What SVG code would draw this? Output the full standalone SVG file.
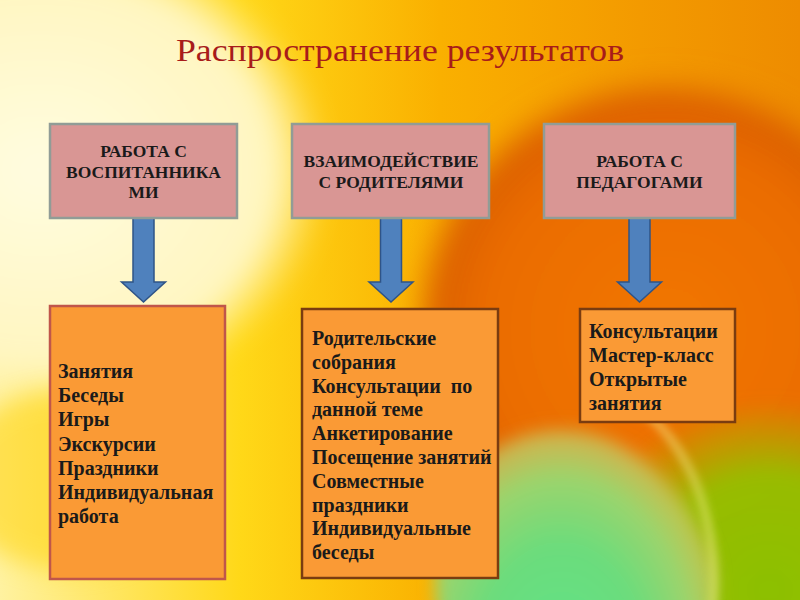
<svg xmlns="http://www.w3.org/2000/svg" width="800" height="600" viewBox="0 0 800 600">
  <defs>
    <linearGradient id="base" x1="0" y1="0" x2="1" y2="0">
      <stop offset="0" stop-color="#fff2a0"/>
      <stop offset="0.3" stop-color="#ffd818"/>
      <stop offset="0.55" stop-color="#fab000"/>
      <stop offset="0.8" stop-color="#f39a00"/>
      <stop offset="1" stop-color="#ee8c00"/>
    </linearGradient>
    <radialGradient id="pale" cx="0.5" cy="0.5" r="0.5">
      <stop offset="0" stop-color="#fffce0"/>
      <stop offset="0.8" stop-color="#fff6c0"/>
      <stop offset="1" stop-color="#fff0a0" stop-opacity="0"/>
    </radialGradient>
    <radialGradient id="orng" cx="0.5" cy="0.5" r="0.5">
      <stop offset="0" stop-color="#f27600"/>
      <stop offset="0.7" stop-color="#ea6c00"/>
      <stop offset="0.88" stop-color="#dc6000"/>
      <stop offset="1" stop-color="#e88000" stop-opacity="0"/>
    </radialGradient>
    <radialGradient id="yg" cx="0.5" cy="0.5" r="0.5">
      <stop offset="0" stop-color="#8cc000"/>
      <stop offset="0.6" stop-color="#94c000" stop-opacity="0.95"/>
      <stop offset="1" stop-color="#a0c000" stop-opacity="0"/>
    </radialGradient>
    <radialGradient id="grn" cx="0.45" cy="0.72" r="0.62">
      <stop offset="0" stop-color="#5ee488"/>
      <stop offset="0.5" stop-color="#6cdc7c"/>
      <stop offset="0.78" stop-color="#9cd46c"/>
      <stop offset="0.95" stop-color="#c8c660" stop-opacity="0.8"/>
      <stop offset="1" stop-color="#d8b848" stop-opacity="0"/>
    </radialGradient>
    <filter id="soft" x="-20%" y="-20%" width="140%" height="140%">
      <feGaussianBlur stdDeviation="12"/>
    </filter>
    <filter id="soft2" x="-20%" y="-20%" width="140%" height="140%">
      <feGaussianBlur stdDeviation="8"/>
    </filter>
    <filter id="soft3" x="-20%" y="-20%" width="140%" height="140%">
      <feGaussianBlur stdDeviation="4"/>
    </filter>
    <style>
      .hdr rect { fill: #d99694; stroke: #919c96; stroke-width: 2.5; }
      .hdr text { font-family: "Liberation Serif", "Times New Roman", serif; font-weight: bold; font-size: 17.5px; fill: #1a1a1a; text-anchor: middle; }
      .lst rect { fill: #fa9a35; stroke-width: 2.5; }
      .lst text { font-family: "Liberation Serif", "Times New Roman", serif; font-weight: bold; font-size: 20px; fill: #1a1a1a; }
      .arrow { fill: #4f81bd; stroke: #2f5487; stroke-width: 1.5; }
    </style>
  </defs>

  <!-- background -->
  <rect width="800" height="600" fill="url(#base)"/>
  <circle cx="665" cy="330" r="260" fill="url(#orng)" filter="url(#soft)"/>
  <ellipse cx="770" cy="590" rx="200" ry="190" fill="url(#yg)" filter="url(#soft2)"/>
  <ellipse cx="575" cy="580" rx="140" ry="195" fill="url(#grn)" filter="url(#soft2)"/>
  <path d="M600,388 A140,195 0 0,1 712,610" fill="none" stroke="#f4f08c" stroke-width="8" opacity="0.5" filter="url(#soft3)"/>
  <ellipse cx="40" cy="170" rx="290" ry="240" fill="url(#pale)" filter="url(#soft)"/>
  <ellipse cx="70" cy="480" rx="120" ry="90" fill="#ffd000" opacity="0.5" filter="url(#soft)"/>

  <text x="400" y="61" font-family="'Liberation Serif', 'Times New Roman', serif" font-size="31" fill="#a81c1a" text-anchor="middle" textLength="448" lengthAdjust="spacingAndGlyphs">Распространение результатов</text>

  <g id="connectors">
    <path class="arrow" d="M133,218 H154 V282 H165.5 L143.5,302 L121.5,282 H133 Z"/>
    <path class="arrow" d="M380.5,218 H401.5 V282 H413 L391,302 L369,282 H380.5 Z"/>
    <path class="arrow" d="M629,218 H650 V282 H661.5 L639.5,302 L617.5,282 H629 Z"/>
  </g>

  <g id="node-pupils" class="hdr">
    <rect x="50" y="124" width="187" height="94"/>
    <text x="143.5" y="157">РАБОТА С</text>
    <text x="143.5" y="177.5">ВОСПИТАННИКА</text>
    <text x="143.5" y="198">МИ</text>
  </g>
  <g id="node-parents" class="hdr">
    <rect x="292" y="124" width="197" height="94"/>
    <text x="391" y="167">ВЗАИМОДЕЙСТВИЕ</text>
    <text x="391" y="187.5">С РОДИТЕЛЯМИ</text>
  </g>
  <g id="node-teachers" class="hdr">
    <rect x="544" y="124" width="191" height="94"/>
    <text x="639.5" y="167">РАБОТА С</text>
    <text x="639.5" y="187.5">ПЕДАГОГАМИ</text>
  </g>

  <g id="node-list-pupils" class="lst">
    <rect x="50" y="306" width="175" height="273" stroke="#c0564a"/>
    <text x="58" y="378">Занятия</text>
    <text x="58" y="402.2">Беседы</text>
    <text x="58" y="426.4">Игры</text>
    <text x="58" y="450.6">Экскурсии</text>
    <text x="58" y="474.8">Праздники</text>
    <text x="58" y="499">Индивидуальная</text>
    <text x="58" y="523.2">работа</text>
  </g>
  <g id="node-list-parents" class="lst">
    <rect x="302" y="309" width="196" height="269" stroke="#7a3c10"/>
    <text x="312" y="345">Родительские</text>
    <text x="312" y="368.8">собрания</text>
    <text x="312" y="392.6">Консультации&#160; по</text>
    <text x="312" y="416.4">данной теме</text>
    <text x="312" y="440.2">Анкетирование</text>
    <text x="312" y="464">Посещение занятий</text>
    <text x="312" y="487.8">Совместные</text>
    <text x="312" y="511.6">праздники</text>
    <text x="312" y="535.4">Индивидуальные</text>
    <text x="312" y="559.2">беседы</text>
  </g>
  <g id="node-list-teachers" class="lst">
    <rect x="580" y="309" width="155" height="113" stroke="#7a3c10"/>
    <text x="589" y="337.5">Консультации</text>
    <text x="589" y="361.8">Мастер-класс</text>
    <text x="589" y="386.1">Открытые</text>
    <text x="589" y="410.4">занятия</text>
  </g>
</svg>
